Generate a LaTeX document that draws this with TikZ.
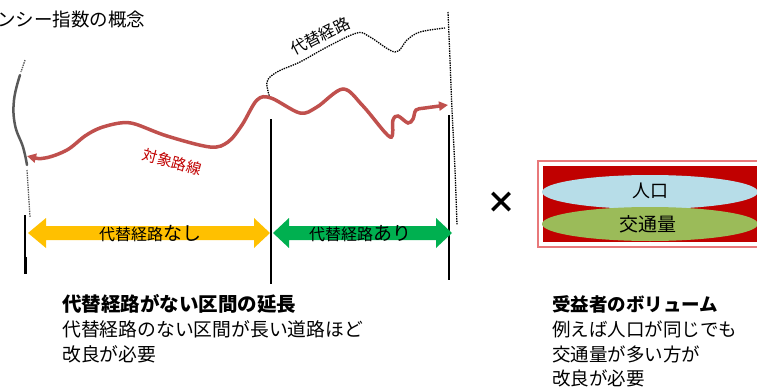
\documentclass[tikz,border=0pt]{standalone}
\usepackage{fontspec}
\newfontfamily\jp{Noto Sans CJK JP}
\usetikzlibrary{arrows.meta}
\definecolor{roadred}{HTML}{C0504D}
\definecolor{labelred}{HTML}{C00000}
\definecolor{arrowyellow}{HTML}{FFC000}
\definecolor{arrowgreen}{HTML}{00B050}
\definecolor{boxred}{HTML}{C00000}
\definecolor{boxedge}{HTML}{E8787A}
\definecolor{popblue}{HTML}{B7DDE8}
\definecolor{trafgreen}{HTML}{9BBB59}
\definecolor{roadgrey}{HTML}{595959}
\tikzset{
  txt/.style={inner sep=0pt, font=\jp},
  altroute/.style={dash pattern=on 1.4pt off 1pt, line width=1.3pt},
  section/.style={line width=1.5pt},
}
\begin{document}
\begin{tikzpicture}[x=1pt,y=-1pt]
\useasboundingbox (0,0) rectangle (757,388);

% title (cut off at the left)
\node[txt, anchor=west, font=\jp\fontsize{18.5}{20}\selectfont] (title) at (-3,19) {ンシー指数の概念};

% left grey road end
\draw[roadgrey, altroute] (25,60) -- (21,72);
\draw[roadgrey, line width=2.5pt, line cap=round] plot[smooth, tension=0.7] coordinates {(20,75) (14,100) (15,125) (23,147) (27,165)};
\draw[roadgrey, altroute] (27,170) -- (30,217);

% alternative route
\draw[altroute] plot[smooth, tension=0.6] coordinates {(270,98) (267,82) (277,72) (300,62) (327,47) (357,33) (370,37) (395,52) (407,40) (420,32) (445,28)};
\draw[altroute] plot[smooth, tension=0.6] coordinates {(448,12) (450,60) (452,110) (455,170) (457,225)};
\node[txt, rotate=27, font=\jp\fontsize{16}{16}\selectfont] (altlabel) at (320,36) {代替経路};

% section lines
\draw[section] (25,215) -- (25,258);
\draw[line width=3pt] (25,257) -- (25,274);
\draw[section] (271,119) -- (271,284);
\draw[section] (449,115) -- (449,280);

% target road
\draw[roadred, line width=3.5pt, {Triangle[length=9pt,width=9pt]}-{Triangle[length=9pt,width=9pt]}]
  plot[smooth, tension=0.55] coordinates {(27,156) (45,158) (67,150) (85,136) (100,128) (120,123) (135,124) (167,136) (210,147) (228,142) (242,125) (257,100) (271,98) (300,113) (317,107) (343,89) (363,106) (390,137) (393,120) (398,116) (408,123) (413,119) (416,110) (425,108) (448,105)};
\node[txt, rotate=-15, text=labelred, font=\jp\fontsize{15}{15}\selectfont] (roadlabel) at (172,162) {対象路線};

% double arrows
\fill[arrowyellow] (28,233) -- (46,218) -- (46,226) -- (254,226) -- (254,218) -- (270,233) -- (254,248) -- (254,240) -- (46,240) -- (46,248) -- cycle;
\fill[arrowgreen] (273,233) -- (289,218) -- (289,226) -- (436,226) -- (436,218) -- (452,233) -- (436,248) -- (436,240) -- (289,240) -- (289,248) -- cycle;
\node[txt] (noalt) at (150,234) {\fontsize{16}{16}\selectfont 代替経路\fontsize{19}{19}\selectfont なし};
\node[txt] (withalt) at (360,234) {\fontsize{16}{16}\selectfont 代替経路\fontsize{19}{19}\selectfont あり};

% times
\node[txt, font=\jp\bfseries\fontsize{30}{30}\selectfont] (times) at (501,203) {×};

% right box
\draw[boxedge, line width=1.5pt] (538,161) rectangle (760,247);
\fill[boxred] (543,166) rectangle (757,242);
\fill[popblue] (650,192) ellipse [x radius=108, y radius=17];
\fill[trafgreen] (650,224) ellipse [x radius=108, y radius=17];
\node[txt, font=\jp\fontsize{18}{18}\selectfont] (pop) at (650,191) {人口};
\node[txt, font=\jp\fontsize{19}{19}\selectfont] (traffic) at (648,224) {交通量};

% bottom texts
\node[txt, anchor=west, font=\jp\bfseries\fontsize{19.5}{20}\selectfont] (lhead) at (62,304) {代替経路がない区間の延長};
\node[txt, anchor=west, font=\jp\fontsize{18.8}{20}\selectfont] (lline1) at (62,329) {代替経路のない区間が長い道路ほど};
\node[txt, anchor=west, font=\jp\fontsize{18.8}{20}\selectfont] (lline2) at (62,354) {改良が必要};

\node[txt, anchor=west, font=\jp\bfseries\fontsize{18.5}{20}\selectfont] (rhead) at (552,304) {受益者のボリューム};
\node[txt, anchor=west, font=\jp\fontsize{18.5}{20}\selectfont] (rline1) at (552,329) {例えば人口が同じでも};
\node[txt, anchor=west, font=\jp\fontsize{18.5}{20}\selectfont] (rline2) at (552,354) {交通量が多い方が};
\node[txt, anchor=west, font=\jp\fontsize{18.5}{20}\selectfont] (rline3) at (552,378) {改良が必要};
\end{tikzpicture}
\end{document}
